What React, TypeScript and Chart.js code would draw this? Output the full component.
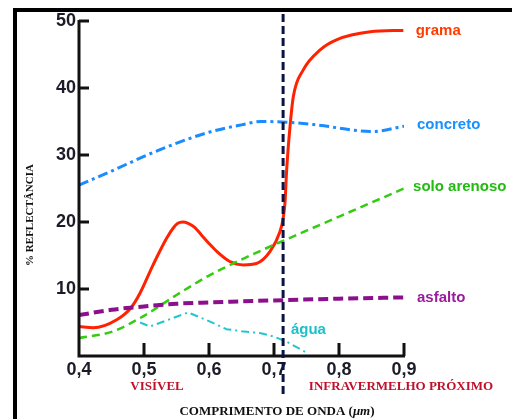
import React, { useEffect, useRef } from "react";
import { Chart, registerables } from "chart.js";

Chart.register(...registerables);

// ---- data ----
const gramaX = [0.4, 0.422, 0.458, 0.48, 0.494, 0.514, 0.535, 0.545, 0.552, 0.5595, 0.568, 0.578, 0.588, 0.6, 0.612, 0.632, 0.653, 0.673, 0.694, 0.709, 0.714, 0.717, 0.7195, 0.7246, 0.7297, 0.745, 0.771, 0.796, 0.848, 0.899];
const gramaY = [4.4, 4.2, 5.4, 7.2, 9.4, 13.6, 17.6, 19.1, 19.8, 20.0, 19.8, 19.2, 18.1, 16.8, 15.6, 14.1, 13.6, 13.8, 15.6, 18.5, 20.5, 23, 27.8, 34.2, 38.7, 42.7, 45.7, 47.2, 48.4, 48.6];

const concretoX = [0.4, 0.45, 0.5, 0.535, 0.6, 0.65, 0.68, 0.72, 0.765, 0.852, 0.9];
const concretoY = [25.5, 27.6, 29.8, 31.2, 33.4, 34.5, 35.0, 34.9, 34.5, 33.5, 34.3];

const soloX = [0.4, 0.45, 0.5, 0.55, 0.6, 0.65, 0.7, 0.75, 0.8, 0.85, 0.9];
const soloY = [2.7, 3.6, 6.0, 9.1, 12.0, 14.4, 16.6, 18.7, 20.8, 22.9, 25.0];

const asfaltoX = [0.4, 0.45, 0.5, 0.55, 0.6, 0.65, 0.7, 0.8, 0.9];
const asfaltoY = [6.1, 6.9, 7.4, 7.8, 8.0, 8.15, 8.3, 8.55, 8.75];

const aguaX = [0.494, 0.509, 0.568, 0.6, 0.627, 0.65, 0.68, 0.7, 0.72, 0.752];
const aguaY = [5.0, 4.4, 6.5, 5.2, 4.0, 3.7, 3.4, 2.9, 2.1, 0.4];

const xTicks = [0.4, 0.5, 0.6, 0.7, 0.8, 0.9];
const yTicks = [10, 20, 30, 40, 50];

const seriesNames = ["grama", "concreto", "solo arenoso", "asfalto", "água"];
const seriesColors = ["#ff2200", "#1a8cff", "#33cc11", "#8b108b", "#22c6cf"];
const labelColors = ["#ff3c00", "#1a90ff", "#22bb11", "#9b1c9b", "#1ec0c8"];
const labelXs = [0.918, 0.92, 0.914, 0.92, 0.726];
const labelYs = [48.5, 34.5, 25.2, 8.7, 3.9];

const dividerX = 0.714;
const regionLabels = ["VISÍVEL", "INFRAVERMELHO PRÓXIMO"];
const xTitle = "COMPRIMENTO DE ONDA (";
const xTitleUnit = "μm";
const yTitle = "% REFLECTÂNCIA";

function pts(xs: number[], ys: number[]) {
  return xs.map((x, i) => ({ x, y: ys[i] }));
}

const decorPlugin = {
  id: "decor",
  afterDatasetsDraw(chart: any) {
    const ctx = chart.ctx;
    const xs = chart.scales.x;
    const ys = chart.scales.y;
    const left = chart.chartArea.left;
    const right = chart.chartArea.right;
    const top = chart.chartArea.top;
    const bottom = chart.chartArea.bottom;
    ctx.save();
    // axes
    ctx.strokeStyle = "#111";
    ctx.lineWidth = 3;
    ctx.beginPath();
    ctx.moveTo(left, top - 1);
    ctx.lineTo(left, bottom);
    ctx.lineTo(right + 1, bottom);
    ctx.stroke();
    // y ticks (inward)
    yTicks.forEach((v) => {
      const py = ys.getPixelForValue(v);
      ctx.beginPath();
      ctx.moveTo(left, py);
      ctx.lineTo(left + 10, py);
      ctx.stroke();
    });
    // x ticks (inward)
    xTicks.slice(1).forEach((v) => {
      const px = xs.getPixelForValue(v);
      ctx.beginPath();
      ctx.moveTo(px, bottom);
      ctx.lineTo(px, bottom - 13);
      ctx.stroke();
    });
    // vertical dashed divider
    const dx = xs.getPixelForValue(dividerX);
    ctx.strokeStyle = "#0b1446";
    ctx.lineWidth = 3;
    ctx.setLineDash([8, 4]);
    ctx.beginPath();
    ctx.moveTo(dx, 14);
    ctx.lineTo(dx, 398);
    ctx.stroke();
    ctx.setLineDash([]);
    // series labels
    ctx.font = "bold 15px 'Liberation Sans', Arial, sans-serif";
    ctx.textBaseline = "middle";
    ctx.textAlign = "left";
    seriesNames.forEach((n, i) => {
      ctx.fillStyle = labelColors[i];
      ctx.fillText(n, xs.getPixelForValue(labelXs[i]), ys.getPixelForValue(labelYs[i]));
    });
    // region labels
    ctx.font = "bold 13px 'Liberation Serif', 'Times New Roman', serif";
    ctx.fillStyle = "#c0102a";
    ctx.textAlign = "center";
    ctx.fillText(regionLabels[0], 157, 387);
    ctx.fillText(regionLabels[1], 401, 387);
    // x title
    ctx.fillStyle = "#111";
    ctx.textAlign = "left";
    const f1 = "bold 13px 'Liberation Serif', 'Times New Roman', serif";
    const f2 = "bold italic 13px 'Liberation Serif', 'Times New Roman', serif";
    ctx.font = f1;
    const w1 = ctx.measureText(xTitle).width;
    ctx.font = f2;
    const w2 = ctx.measureText(xTitleUnit).width;
    ctx.font = f1;
    const w3 = ctx.measureText(")").width;
    const total = w1 + w2 + w3;
    let sx = 277 - total / 2;
    ctx.fillText(xTitle, sx, 412);
    ctx.font = f2;
    ctx.fillText(xTitleUnit, sx + w1, 412);
    ctx.font = f1;
    ctx.fillText(")", sx + w1 + w2, 412);
    // y title
    ctx.save();
    ctx.translate(30, 215);
    ctx.rotate(-Math.PI / 2);
    ctx.textAlign = "center";
    ctx.font = "bold 11px 'Liberation Serif', 'Times New Roman', serif";
    ctx.fillText(yTitle, 0, 0);
    ctx.restore();
    // frame
    ctx.fillStyle = "#000";
    ctx.fillRect(13, 8, 512 - 13, 4);
    ctx.fillRect(13, 8, 4, 419 - 8);
    ctx.restore();
  },
};

export default function App() {
  const ref = useRef<HTMLCanvasElement | null>(null);
  useEffect(() => {
    if (!ref.current) return;
    const tickFont = { family: "'Liberation Sans', Arial, sans-serif", size: 18, weight: "bold" as const };
    const chart = new Chart(ref.current, {
      type: "line",
      data: {
        datasets: [
          {
            label: seriesNames[3],
            data: pts(asfaltoX, asfaltoY),
            borderColor: seriesColors[3],
            borderWidth: 4,
            borderDash: [10, 5],
            pointRadius: 0,
            cubicInterpolationMode: "monotone",
          },
          {
            label: seriesNames[2],
            data: pts(soloX, soloY),
            borderColor: seriesColors[2],
            borderWidth: 2.5,
            borderDash: [8, 5],
            pointRadius: 0,
            cubicInterpolationMode: "monotone",
          },
          {
            label: seriesNames[4],
            data: pts(aguaX, aguaY),
            borderColor: seriesColors[4],
            borderWidth: 2,
            borderDash: [8, 4, 2, 4],
            pointRadius: 0,
            tension: 0,
          },
          {
            label: seriesNames[1],
            data: pts(concretoX, concretoY),
            borderColor: seriesColors[1],
            borderWidth: 3,
            borderDash: [10, 4, 3, 4],
            pointRadius: 0,
            cubicInterpolationMode: "monotone",
          },
          {
            label: seriesNames[0],
            data: pts(gramaX, gramaY),
            borderColor: seriesColors[0],
            borderWidth: 3,
            pointRadius: 0,
            cubicInterpolationMode: "monotone",
          },
        ],
      },
      options: {
        responsive: false,
        maintainAspectRatio: false,
        animation: false,
        layout: { padding: { left: 0, right: 108, top: 21, bottom: 0 } },
        plugins: { legend: { display: false }, tooltip: { enabled: false } },
        scales: {
          x: {
            type: "linear",
            min: 0.4,
            max: 0.9,
            afterBuildTicks: (s: any) => {
              s.ticks = xTicks.map((v) => ({ value: v }));
            },
            afterFit: (s: any) => {
              s.height = 63;
            },
            grid: { display: false, drawTicks: false },
            border: { display: false },
            ticks: {
              padding: 3,
              color: "#1c1c28",
              font: tickFont,
              maxRotation: 0,
              autoSkip: false,
              callback: (v: any) => Number(v).toFixed(1).replace(".", ","),
            },
          },
          y: {
            type: "linear",
            min: 0,
            max: 50,
            afterBuildTicks: (s: any) => {
              s.ticks = yTicks.map((v) => ({ value: v }));
            },
            afterFit: (s: any) => {
              s.width = 79;
            },
            grid: { display: false, drawTicks: false },
            border: { display: false },
            ticks: {
              padding: 3,
              color: "#1c1c28",
              font: tickFont,
              autoSkip: false,
              callback: (v: any) => String(v),
            },
          },
        },
      },
      plugins: [decorPlugin],
    });
    return () => chart.destroy();
  }, []);
  return (
    <div style={{ position: "absolute", left: 0, top: 0, width: 512, height: 419, background: "#fff" }}>
      <canvas ref={ref} width={512} height={419} style={{ width: 512, height: 419, display: "block" }} />
    </div>
  );
}
